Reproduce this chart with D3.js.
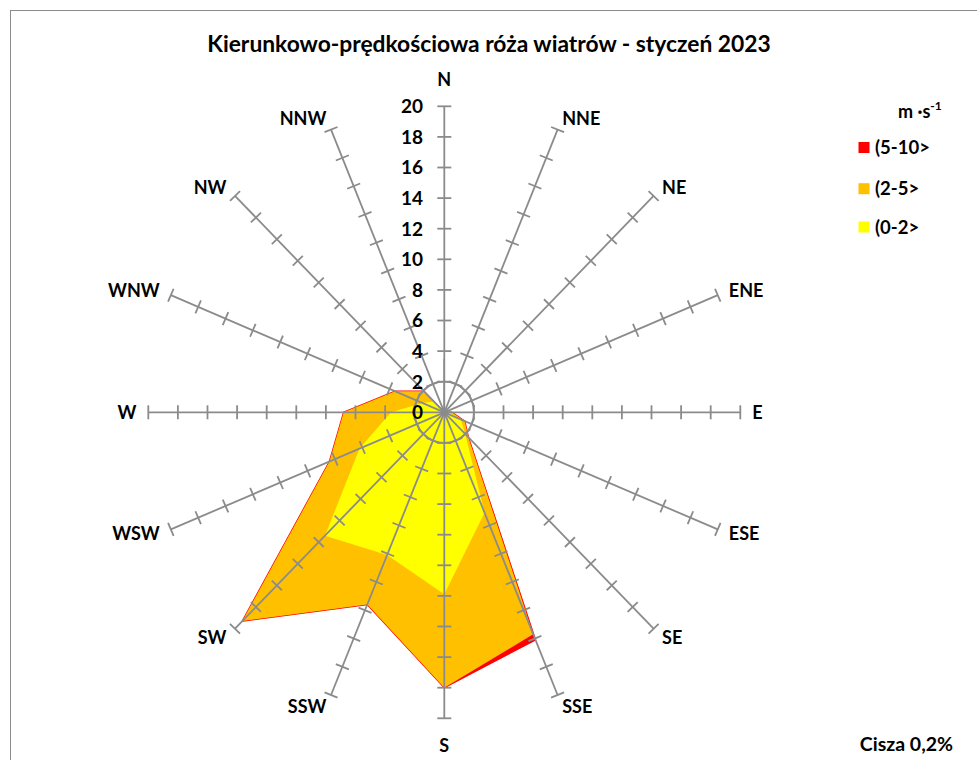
<!DOCTYPE html>
<html><head><meta charset="utf-8">
<script src="https://cdn.jsdelivr.net/npm/d3@7"></script>
<style>body{margin:0;background:#fff}svg{display:block}</style>
</head><body><svg id="c" width="977" height="760"></svg>
<script>
// ---------- DATA (cumulative frequency, %) ----------
const directions = ["N","NNE","NE","ENE","E","ESE","SE","SSE","S","SSW","SW","WSW","W","WNW","NW","NNW"];
const cum_0_2  = [0.0, 0, 0, 0, 0.3, 1.2, 2.0, 7.1, 11.9, 10.1, 11.4, 6.2, 3.6, 1.6, 1.0, 0];
const cum_2_5  = [3.5, 0, 0, 0, 0.5, 1.5, 2.3, 15.7, 18.0, 13.6, 19.3, 8.4, 6.8, 3.6, 1.95, 0];
const cum_5_10 = [3.5, 0, 0, 0, 0.5, 1.5, 2.3, 16.1, 18.0, 13.6, 19.3, 8.4, 6.8, 3.6, 1.95, 0];
const radialTicks = [0,2,4,6,8,10,12,14,16,18,20];
const legendLabels = ["(5-10>","(2-5>","(0-2>"];
const seriesColors = ["#FF0000","#FFC000","#FFFF00"];
const titleText = "Kierunkowo-prędkościowa róża wiatrów - styczeń 2023";
const calmText = "Cisza 0,2%";

// ---------- LAYOUT ----------
const svg = d3.select("#c");
const FONT = "Lato, 'Open Sans', sans-serif";
const cx = 444.3, cy = 412.3;
const rX = d3.scaleLinear().domain([0,20]).range([0,296]);
const rY = d3.scaleLinear().domain([0,20]).range([0,306]);
const ang = d3.scaleLinear().domain([0,directions.length]).range([0,2*Math.PI]);
const px = (i,v) => cx + rX(v)*Math.sin(ang(i));
const py = (i,v) => cy - rY(v)*Math.cos(ang(i));
const gridColor = "#8b8b8b";

svg.append("rect").attr("x",0).attr("y",0).attr("width",977).attr("height",760).attr("fill","#fff");
svg.append("rect").attr("x",10.5).attr("y",10.5).attr("width",980).attr("height",800)
   .attr("fill","none").attr("stroke","#8c8c8c").attr("stroke-width",1);

// title
svg.append("text").attr("x",489).attr("y",52).attr("text-anchor","middle")
  .attr("font-family",FONT).attr("font-weight","bold").attr("font-size",22.8).attr("fill","#000")
  .text(titleText);

// areas
const areaLine = d3.line().x(d=>px(d.i,d.v)).y(d=>py(d.i,d.v)).curve(d3.curveLinearClosed);
const series = [cum_5_10, cum_2_5, cum_0_2];
const gArea = svg.append("g");
series.forEach((s,k)=>{
  gArea.append("path")
    .attr("d", areaLine(s.map((v,i)=>({i,v}))))
    .attr("fill", seriesColors[k])
    .attr("stroke", k===0 ? seriesColors[0] : "none")
    .attr("stroke-width", k===0 ? 1.4 : 0)
    .attr("stroke-linejoin","miter");
});

// grid: circle at 2
const gGrid = svg.append("g").attr("stroke",gridColor).attr("stroke-width",1.8).attr("fill","none");
gGrid.append("ellipse").attr("cx",cx).attr("cy",cy).attr("rx",rX(2)).attr("ry",rY(2));

// axes + ticks
directions.forEach((d,i)=>{
  gGrid.append("line").attr("x1",cx).attr("y1",cy).attr("x2",px(i,20)).attr("y2",py(i,20));
  const a = ang(i);
  const ux = rX(1)*Math.sin(a), uy = -rY(1)*Math.cos(a);
  const L = Math.hypot(ux,uy);
  const nx = -uy/L, ny = ux/L;
  radialTicks.filter(t=>t>0).forEach(t=>{
    const x = px(i,t), y = py(i,t);
    gGrid.append("line").attr("x1",x-7*nx).attr("y1",y-7*ny).attr("x2",x+7*nx).attr("y2",y+7*ny);
  });
});

// radial value labels
svg.append("g").selectAll("text").data(radialTicks).join("text")
  .attr("x",423).attr("y",d=>py(0,d)).attr("dy","0.36em").attr("text-anchor","end")
  .attr("font-family",FONT).attr("font-weight","bold").attr("font-size",19).attr("fill","#000")
  .text(d=>d);

// direction labels
directions.forEach((d,i)=>{
  const a = ang(i), s = Math.sin(a), c = Math.cos(a);
  const ex = px(i,20), ey = py(i,20);
  let x, y, anchor;
  if (Math.abs(s) < 0.1) { x = ex; y = ey - c*27; anchor = "middle"; }
  else { x = ex + 12*s; y = ey - 12*c; anchor = s>0 ? "start" : "end"; }
  svg.append("text").attr("x",x).attr("y",y).attr("dy","0.36em").attr("text-anchor",anchor)
    .attr("font-family",FONT).attr("font-weight","bold").attr("font-size",18).attr("fill","#000")
    .text(d);
});

// legend
const lg = svg.append("g").attr("font-family",FONT).attr("font-weight","bold").attr("fill","#000");
const unit = lg.append("text").attr("x",898).attr("y",118).attr("font-size",18);
unit.append("tspan").text("m ·s");
unit.append("tspan").attr("dy",-8).attr("font-size",12).text("-1");
const legY = [147.5, 188.7, 227];
legendLabels.forEach((l,k)=>{
  lg.append("rect").attr("x",858.5).attr("y",legY[k]-5.5).attr("width",11).attr("height",11).attr("fill",seriesColors[k]);
  lg.append("text").attr("x",875).attr("y",legY[k]).attr("dy","0.36em").attr("font-size",18.5).text(l);
});

// calm
svg.append("text").attr("x",953).attr("y",744).attr("dy","0.36em").attr("text-anchor","end")
  .attr("font-family",FONT).attr("font-weight","bold").attr("font-size",19.5).attr("fill","#000")
  .text(calmText);
</script></body></html>
